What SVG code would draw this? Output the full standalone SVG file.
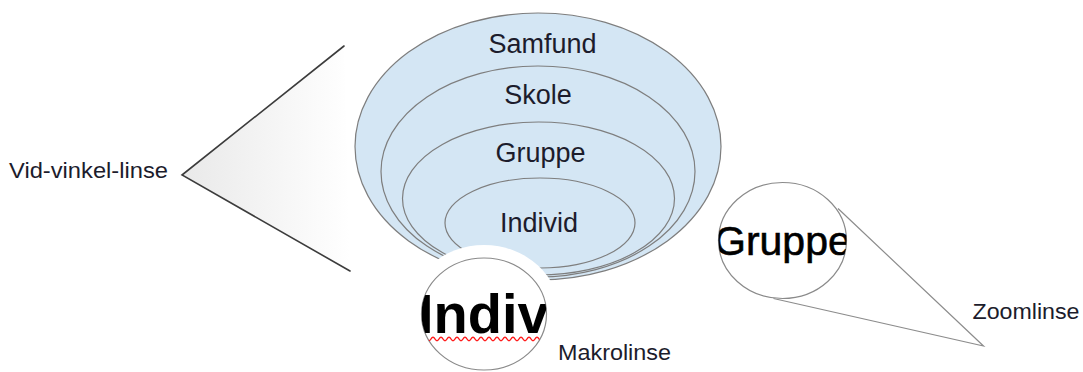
<svg xmlns="http://www.w3.org/2000/svg" width="1083" height="372" viewBox="0 0 1083 372">
  <style>
    .ring { fill: #d4e6f4; stroke: #7e7e7e; stroke-width: 1.2; }
    .ring-label { font-family: "Liberation Sans", Arial, sans-serif; font-size: 27px; fill: #1c1c2c; text-anchor: middle; }
    .label { font-family: "Liberation Sans", Arial, sans-serif; font-size: 22px; fill: #1c1c2c; }
    .lens { fill: #ffffff; stroke: #8a8a8a; stroke-width: 1.2; }
    .cone-dark { fill: none; stroke: #3c3c3c; stroke-width: 1.6; stroke-linecap: round; }
    .cone-light { fill: none; stroke: #8c8c8c; stroke-width: 1.2; }
    .big-word { font-family: "Liberation Sans", Arial, sans-serif; fill: #000000; }
  </style>
  <defs>
    <linearGradient id="wideFill" gradientUnits="userSpaceOnUse" x1="182" y1="0" x2="350" y2="0">
      <stop offset="0" stop-color="#e9e9e9"/>
      <stop offset="1" stop-color="#ffffff"/>
    </linearGradient>
    <clipPath id="macroClip">
      <ellipse cx="484" cy="314" rx="62.5" ry="56"/>
    </clipPath>
    <clipPath id="zoomClip">
      <ellipse cx="782.5" cy="240.5" rx="64" ry="58"/>
    </clipPath>
  </defs>

  <!-- wide-angle lens cone -->
  <g id="wide-lens">
    <polygon points="182,175 344,46 350,271" fill="url(#wideFill)"/>
  </g>

  <!-- nested levels, outermost first -->
  <g id="node-samfund">
    <ellipse class="ring" cx="538" cy="146.5" rx="183" ry="133.5"/>
    <text class="ring-label" x="542.5" y="52.5">Samfund</text>
  </g>
  <g id="node-skole">
    <ellipse class="ring" cx="538" cy="171.5" rx="157" ry="105.5"/>
    <text class="ring-label" x="538" y="103.5">Skole</text>
  </g>
  <g id="node-gruppe">
    <ellipse class="ring" cx="538.5" cy="198.5" rx="136" ry="76.5"/>
    <text class="ring-label" x="540.5" y="162">Gruppe</text>
  </g>
  <g id="node-individ">
    <ellipse class="ring" cx="540" cy="223" rx="95" ry="45"/>
    <text class="ring-label" x="539" y="232">Individ</text>
  </g>

  <!-- lens cone outlines -->
  <g id="connectors">
    <polyline class="cone-dark" points="344,46 182,175 350,271"/>
    <polyline class="cone-light" points="838,208.5 983.5,346 773.5,298.5"/>
  </g>

  <!-- macro lens -->
  <g id="macro-lens">
    <ellipse cx="484" cy="314" rx="76" ry="69" fill="#ffffff"/>
    <ellipse class="lens" cx="484" cy="314" rx="62.5" ry="56"/>
    <g clip-path="url(#macroClip)">
      <text class="big-word" x="418" y="333" font-size="56" font-weight="bold">Indiv</text>
      <path d="M423 339 q2 -3.6 4 0 t4 0 t4 0 t4 0 t4 0 t4 0 t4 0 t4 0 t4 0 t4 0 t4 0 t4 0 t4 0 t4 0 t4 0 t4 0 t4 0 t4 0 t4 0 t4 0 t4 0 t4 0 t4 0 t4 0 t4 0 t4 0 t4 0 t4 0 t4 0 t4 0" fill="none" stroke="#ff1a1a" stroke-width="1.4"/>
    </g>
  </g>

  <!-- zoom lens -->
  <g id="zoom-lens">
    <ellipse class="lens" cx="782.5" cy="240.5" rx="64" ry="58"/>
    <g clip-path="url(#zoomClip)">
      <text class="big-word" x="714" y="255" font-size="41" stroke="#000000" stroke-width="0.6">Gruppe</text>
    </g>
  </g>

  <!-- lens names -->
  <g id="label-wide">
    <text class="label" x="9" y="178" textLength="159" lengthAdjust="spacingAndGlyphs">Vid-vinkel-linse</text>
  </g>
  <g id="label-macro">
    <text class="label" x="558" y="360" textLength="113" lengthAdjust="spacingAndGlyphs">Makrolinse</text>
  </g>
  <g id="label-zoom">
    <text class="label" x="972.5" y="319" textLength="107" lengthAdjust="spacingAndGlyphs">Zoomlinse</text>
  </g>
</svg>
